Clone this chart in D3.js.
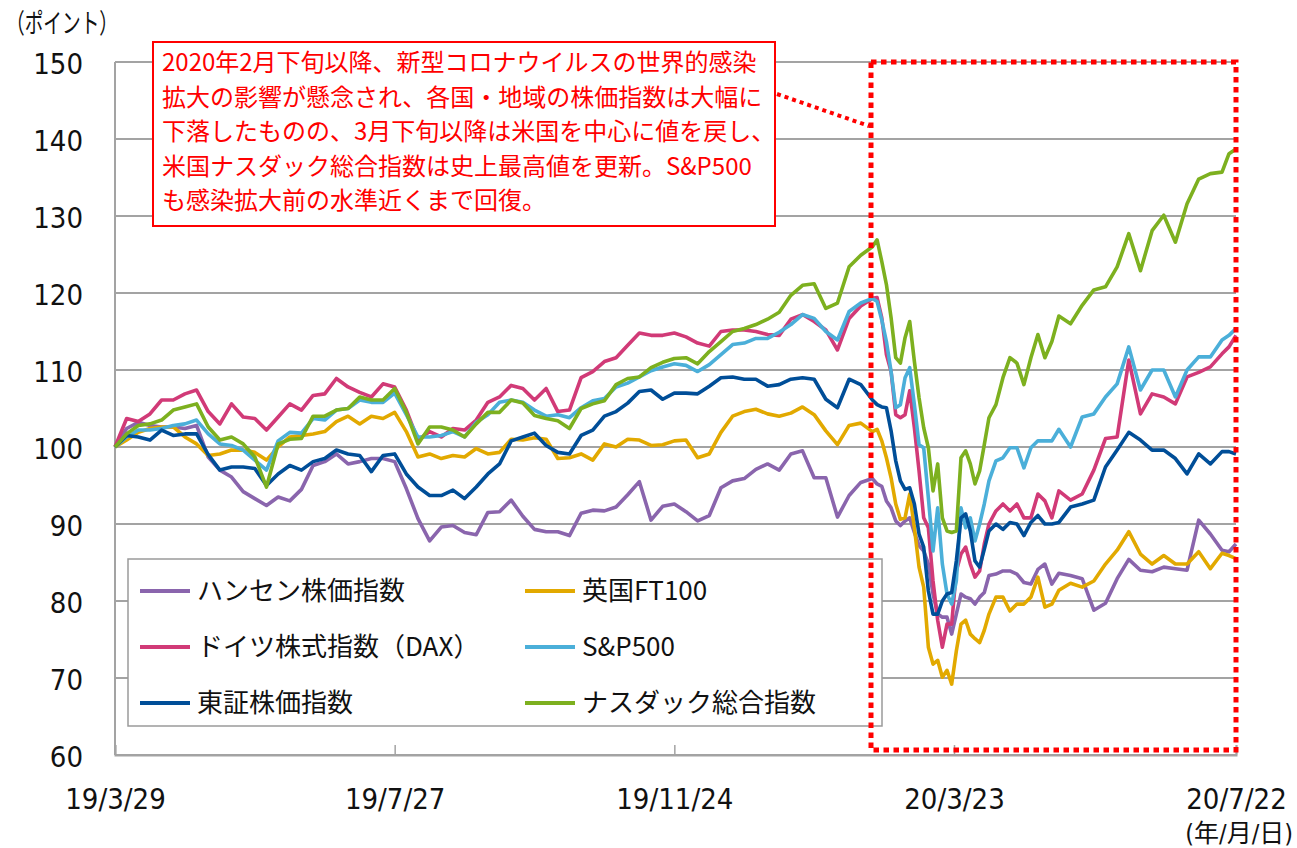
<!DOCTYPE html>
<html>
<head>
<meta charset="utf-8">
<script src="https://cdn.jsdelivr.net/npm/d3@7"></script>
<style>
  html, body { margin: 0; padding: 0; background: #fff; }
  .num { font-family: "DejaVu Sans Condensed", "DejaVu Sans", "Noto Sans CJK JP", sans-serif; font-stretch: condensed; }
  .jp { font-family: "Noto Sans CJK JP", sans-serif; }
</style>
</head>
<body>
<div id="chart"></div>
<script>
// days after 2019/3/29 for each sampled point
const dayOffsets = [
  0,5,10,15,20,25,30,35,40,45,50,55,60,65,70,75,80,
  85,90,95,100,105,110,115,120,125,130,135,140,145,150,155,160,
  165,170,175,180,185,190,195,200,205,210,215,220,225,230,235,240,
  245,250,255,260,265,270,275,280,285,290,295,300,305,310,315,320,325,
  327,329,331,333,335,337,339,341,343,345,347,349,351,353,355,357,359,361,363,365,367,369,371,373,
  375,378,381,384,387,390,393,396,399,402,405,
  410,415,420,425,430,435,440,445,450,455,460,465,470,475,478,481
];

const hangSeng = [
  100,102.4,103.2,102.8,102.6,102.6,102.4,102.8,98.7,97.0,96.1,94.2,93.3,92.4,93.5,93.0,94.5,
  97.6,98.1,99.1,97.8,98.1,98.5,98.5,98.1,94.6,90.7,87.8,89.6,89.8,88.9,88.6,91.5,
  91.6,93.1,91.0,89.3,89.0,89.0,88.5,91.4,91.8,91.7,92.2,93.8,95.5,90.5,92.3,92.6,
  91.6,90.4,91.1,94.7,95.6,95.9,97.1,97.8,97.0,99.1,99.5,96.0,96.0,90.9,93.7,95.4,95.9,
  95.2,94.9,93.0,92.1,90.4,89.8,90.4,90.8,88.9,87.2,86.5,84.8,80.9,78.3,77.9,77.9,75.7,78.3,80.9,80.5,80.3,79.6,80.5,81.1,
  83.3,83.5,83.9,83.9,83.5,82.4,82.2,84.1,84.8,82.2,83.6,
  83.3,82.9,78.8,79.7,82.9,85.4,84.0,83.8,84.4,84.2,84.0,90.5,88.7,86.6,86.4,87.4
];
const ftse100 = [
  100,100.9,101.9,102.4,102.6,102.6,101.3,100.4,98.9,99.1,99.6,99.6,99.3,98.3,100.0,101.3,101.5,
  101.7,102.0,103.3,104.0,103.0,104.0,103.7,104.5,102.0,98.7,99.1,98.5,98.9,98.7,99.8,99.1,
  99.3,101.0,100.9,101.2,101.0,98.5,98.6,99.1,98.3,100.4,100.0,101.0,100.9,100.2,100.3,100.8,
  100.9,98.6,99.1,101.9,104.0,104.6,104.9,104.3,104.0,104.4,105.2,104.2,102.1,100.3,102.8,103.1,102.0,
  102.3,100.8,98.6,96.0,92.6,90.6,90.8,93.9,89.5,84.4,81.8,74.0,71.8,72.3,70.1,71.0,69.2,73.5,77.0,77.5,75.7,75.1,74.6,76.2,
  78.3,80.5,80.5,78.7,79.6,79.6,80.5,83.1,79.2,79.6,81.4,
  82.3,81.8,82.6,84.8,86.6,89.0,86.1,84.8,85.9,84.8,84.8,86.4,84.2,86.2,85.9,85.5
];
const dax = [
  100,103.7,103.3,104.3,106.1,106.1,106.9,107.4,104.6,103.0,105.6,103.9,103.7,102.2,103.9,105.6,104.8,
  106.7,106.9,108.9,107.8,107.1,106.5,108.2,107.8,104.8,100.9,102.0,101.3,102.4,102.2,103.5,105.8,
  106.5,108.0,107.6,106.1,107.6,104.6,104.8,109.0,109.8,111.1,111.6,113.2,114.8,114.5,114.5,114.8,
  114.3,113.5,113.1,115.0,115.2,115.2,115.0,114.6,114.5,116.6,117.2,116.3,115.2,112.6,116.7,118.3,119.3,
  119.4,116.8,112.0,109.8,104.2,103.8,104.2,107.3,102.5,96.9,90.8,89.5,82.6,77.5,74.0,77.0,77.0,83.9,86.1,87.0,84.8,83.1,83.9,87.4,
  90.0,91.7,92.6,91.7,92.6,90.8,90.8,93.9,93.0,90.8,94.3,
  93.1,93.9,97.0,101.1,101.3,111.3,104.3,106.9,106.5,105.6,109.1,109.7,110.4,112.1,113.0,114.5
];
const sp500 = [
  100,101.3,102.2,102.2,102.4,102.8,103.0,103.5,101.7,100.4,100.2,99.6,98.3,97.0,100.8,101.9,101.8,
  103.7,103.5,104.8,105.0,106.1,105.8,105.8,107.0,104.2,101.3,101.3,101.5,102.0,101.3,103.2,104.2,
  105.8,106.1,105.8,104.8,104.0,104.2,103.8,105.1,106.0,106.3,107.8,108.3,109.1,109.9,110.4,110.8,
  110.6,109.8,110.7,112.0,113.3,113.5,114.1,114.1,114.9,115.9,117.2,116.7,115.0,113.9,117.6,118.7,119.3,
  118.9,116.5,113.7,109.8,105.1,105.5,109.0,110.3,105.5,100.3,99.9,93.4,86.5,92.1,84.8,80.9,79.6,82.6,92.1,89.5,90.8,87.8,90.0,92.6,
  95.6,98.2,98.6,99.9,99.9,97.3,99.9,100.8,100.8,100.8,102.3,
  100.0,103.9,104.3,106.5,108.2,113.0,107.4,110.0,110.0,106.5,110.0,111.7,111.7,113.9,114.5,115.4
];
const topix = [
  100,101.5,101.3,100.9,102.2,101.5,101.7,101.7,99.0,97.0,97.4,97.4,97.2,95.0,96.5,97.6,97.0,
  98.1,98.5,99.6,99.1,98.9,96.8,98.9,99.1,96.5,94.8,93.7,93.7,94.4,93.3,94.8,96.5,
  97.8,100.8,101.3,101.8,100.2,99.3,99.1,101.5,102.2,104.0,104.6,105.7,107.2,107.4,106.2,107.0,
  107.0,106.9,107.9,109.0,109.1,108.8,108.8,107.9,108.1,108.8,109.0,108.8,106.2,105.1,108.8,108.1,106.1,
  105.5,105.2,105.1,102.1,98.2,95.6,94.5,94.7,92.6,88.7,87.0,81.3,78.3,78.3,80.0,80.9,81.1,85.2,90.8,91.3,89.1,85.2,84.4,86.7,
  89.1,90.0,89.3,90.2,90.0,88.5,90.2,91.1,90.0,90.0,90.2,
  92.2,92.6,93.1,97.4,99.6,101.9,100.9,99.6,99.6,98.5,96.5,99.1,97.8,99.4,99.4,99.1
];
const nasdaq = [
  100,101.7,102.8,103.0,103.5,104.8,105.2,105.6,102.6,100.9,101.3,100.4,98.7,94.8,100.4,101.0,101.1,
  104.0,104.0,104.8,105.0,106.5,106.1,106.1,107.6,104.5,100.4,102.6,102.6,102.2,101.3,103.0,104.5,
  104.5,106.1,105.7,104.1,103.7,103.4,102.4,105.0,105.6,106.0,108.1,108.9,109.1,110.3,111.0,111.5,
  111.6,110.8,112.4,113.7,115.0,115.4,115.9,116.6,117.5,119.7,121.0,121.2,118.0,118.7,123.4,124.9,126.0,
  126.9,124.1,121.1,116.8,111.6,110.9,114.2,116.3,111.1,106.4,102.5,99.9,94.3,97.8,90.8,89.1,88.9,89.1,98.6,99.5,97.8,95.2,96.9,100.3,
  103.8,105.5,109.0,111.6,110.9,108.1,111.6,114.6,111.6,113.7,117.0,
  116.0,118.4,120.4,120.8,123.4,127.7,122.9,128.1,130.1,126.6,131.6,134.8,135.5,135.7,138.1,138.7
];

const seriesNames = ["ハンセン株価指数", "英国FT100", "ドイツ株式指数（DAX）", "S&P500", "東証株価指数", "ナスダック総合指数"];
const seriesValues = [hangSeng, ftse100, dax, sp500, topix, nasdaq];
const seriesColors = ["#8a65ad", "#e2a900", "#d13a77", "#4bafd9", "#004e98", "#7db01f"];

const xTickDates = ["2019-03-29", "2019-07-27", "2019-11-24", "2020-03-23", "2020-07-22"];
const yTicks = [60, 70, 80, 90, 100, 110, 120, 130, 140, 150];

const noteLines = [
  "2020年2月下旬以降、新型コロナウイルスの世界的感染",
  "拡大の影響が懸念され、各国・地域の株価指数は大幅に",
  "下落したものの、3月下旬以降は米国を中心に値を戻し、",
  "米国ナスダック総合指数は史上最高値を更新。S&P500",
  "も感染拡大前の水準近くまで回復。"
];

function draw() {
  const W = 1297, H = 848;
  const margin = { top: 62, right: 61, bottom: 93, left: 115 },
      width = W - margin.left - margin.right,
      height = H - margin.top - margin.bottom;

  const root = d3.select("#chart").append("svg")
      .attr("width", W)
      .attr("height", H);

  const svg = root.append("g")
      .attr("transform", `translate(${margin.left},${margin.top})`);

  const parse = d3.timeParse("%Y-%m-%d");
  const start = parse(xTickDates[0]);
  const dates = dayOffsets.map(d => d3.timeDay.offset(start, d));

  const x = d3.scaleTime()
      .domain([start, parse(xTickDates[xTickDates.length - 1])])
      .range([0, width]);

  const y = d3.scaleLinear()
      .domain([60, 150])
      .range([height, 0]);

  // gridlines
  svg.append("g")
      .selectAll("line")
      .data(yTicks)
      .join("line")
      .attr("x1", 0)
      .attr("x2", width)
      .attr("y1", d => y(d))
      .attr("y2", d => y(d))
      .attr("stroke", "#a3a3a3")
      .attr("stroke-width", 2);

  // left axis line
  svg.append("line")
      .attr("x1", 0).attr("x2", 0)
      .attr("y1", 0).attr("y2", height)
      .attr("stroke", "#a3a3a3")
      .attr("stroke-width", 2);

  // y labels
  const yAxis = svg.append("g")
      .call(d3.axisLeft(y).tickValues(yTicks).tickSize(0).tickPadding(32));
  yAxis.select(".domain").remove();
  yAxis.selectAll("text")
      .attr("class", "num")
      .attr("dy", "0.4em")
      .style("font-size", "29px")
      .style("fill", "#111");

  // x axis with inward ticks
  const tickDates = xTickDates.map(parse);
  const xAxis = svg.append("g")
      .attr("transform", `translate(0,${height})`)
      .call(d3.axisBottom(x)
          .tickValues(tickDates)
          .tickFormat(d3.timeFormat("%y/%-m/%-d"))
          .tickSize(-10)
          .tickPadding(0));
  xAxis.select(".domain").attr("stroke", "#a3a3a3").attr("stroke-width", 2);
  xAxis.selectAll(".tick line").attr("stroke", "#a3a3a3").attr("stroke-width", 1.5);
  xAxis.selectAll("text")
      .attr("class", "num")
      .attr("y", 54)
      .attr("dy", 0)
      .style("font-size", "29px")
      .style("fill", "#111");

  // series lines, first series at the bottom
  const line = d3.line()
      .x((d, i) => x(dates[i]))
      .y(d => y(d));

  svg.append("g")
      .selectAll("path")
      .data(seriesValues)
      .join("path")
      .attr("fill", "none")
      .attr("stroke", (d, i) => seriesColors[i])
      .attr("stroke-width", 3.6)
      .attr("stroke-linejoin", "round")
      .attr("d", line);

  // legend
  const legend = root.append("g");
  legend.append("rect")
      .attr("x", 128).attr("y", 559)
      .attr("width", 754).attr("height", 167)
      .attr("fill", "#fff")
      .attr("stroke", "#9a9a9a")
      .attr("stroke-width", 1.5);

  const colX = [140, 525];
  const rowY = [591, 647, 703];
  seriesNames.forEach((name, i) => {
    const cx = colX[i % 2], cy = rowY[Math.floor(i / 2)];
    legend.append("line")
        .attr("x1", cx).attr("x2", cx + 50)
        .attr("y1", cy).attr("y2", cy)
        .attr("stroke", seriesColors[i])
        .attr("stroke-width", 4);
    legend.append("text")
        .attr("class", "jp")
        .attr("x", cx + 57)
        .attr("y", cy + 9)
        .style("font-size", "26px")
        .style("fill", "#111")
        .text(name);
  });

  // dashed highlight box
  root.append("rect")
      .attr("x", 871).attr("y", 62)
      .attr("width", 365).attr("height", 688)
      .attr("fill", "none")
      .attr("stroke", "#ff0000")
      .attr("stroke-width", 5)
      .attr("stroke-dasharray", "5.5 4.5");

  // connector
  root.append("line")
      .attr("x1", 777).attr("y1", 94)
      .attr("x2", 869).attr("y2", 126)
      .attr("stroke", "#ff0000")
      .attr("stroke-width", 4)
      .attr("stroke-dasharray", "4 4");

  // note box
  root.append("rect")
      .attr("x", 153).attr("y", 42)
      .attr("width", 622).attr("height", 184)
      .attr("fill", "#fff")
      .attr("stroke", "#ff0000")
      .attr("stroke-width", 2);

  root.append("g")
      .selectAll("text")
      .data(noteLines)
      .join("text")
      .attr("class", "jp")
      .attr("x", 162)
      .attr("y", (d, i) => 71 + i * 34.5)
      .style("font-size", "24px")
      .style("fill", "#ff0000")
      .text(d => d);

  // unit labels
  root.append("text")
      .attr("class", "jp")
      .attr("x", 6).attr("y", 33)
      .attr("textLength", 112)
      .attr("lengthAdjust", "spacingAndGlyphs")
      .style("font-size", "27px")
      .style("fill", "#111")
      .text("（ポイント）");

  root.append("text")
      .attr("class", "num")
      .attr("x", 1293).attr("y", 842)
      .attr("text-anchor", "end")
      .style("font-size", "25px")
      .style("fill", "#111")
      .text("(年/月/日)");
}

window.onload = draw;
</script>
</body>
</html>
